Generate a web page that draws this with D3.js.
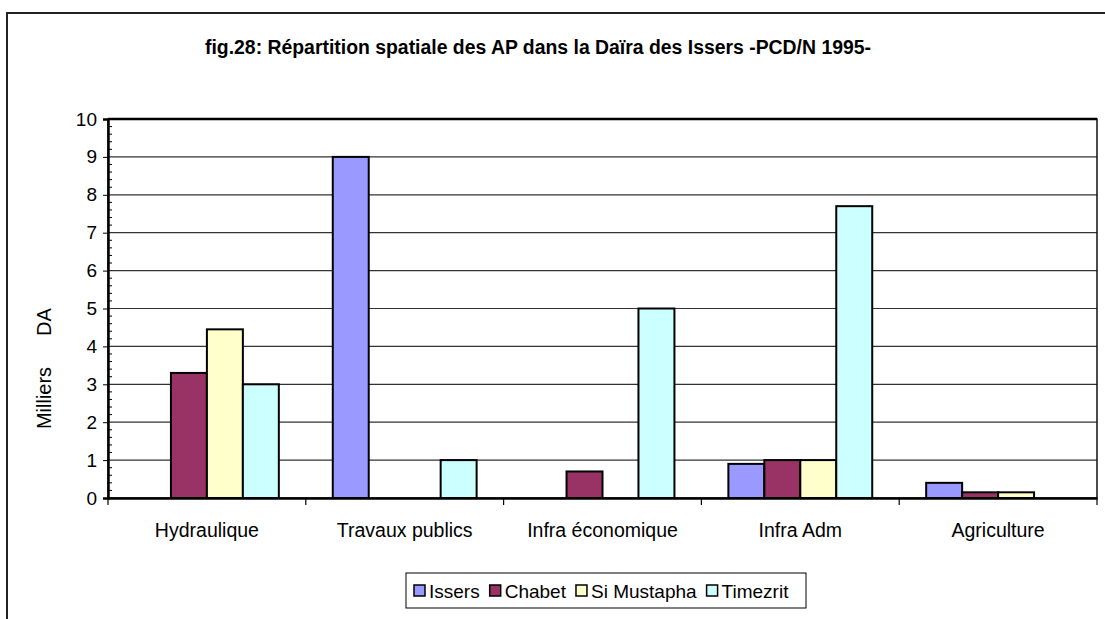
<!DOCTYPE html>
<html>
<head>
<meta charset="utf-8">
<script src="https://cdn.jsdelivr.net/npm/d3@7"></script>
<style>
  body { margin: 0; background: #fff; }
  text { font-family: "Liberation Sans", Arial, sans-serif; }
</style>
</head>
<body>
<div id="chart"></div>
<script>
// data (Milliers DA)
const categories = ["Hydraulique", "Travaux publics", "Infra économique", "Infra Adm", "Agriculture"];
const seriesNames = ["Issers", "Chabet", "Si Mustapha", "Timezrit"];
const issers     = [0, 9.0, 0, 0.9, 0.4];
const chabet     = [3.3, 0, 0.7, 1.0, 0.15];
const siMustapha = [4.45, 0, 0, 1.0, 0.15];
const timezrit   = [3.0, 1.0, 5.0, 7.7, 0];
const colors = ["#9999FF", "#993366", "#FFFFCC", "#CCFFFF"];
const yTicks = [0, 1, 2, 3, 4, 5, 6, 7, 8, 9, 10];

const seriesValues = [issers, chabet, siMustapha, timezrit];

function barChart(selector) {
  const W = 1105, H = 619;
  const margin = {top: 119, right: 8, bottom: 121, left: 108};
  const width = W - margin.left - margin.right,
        height = H - margin.top - margin.bottom;
  const font = "Liberation Sans, Arial, sans-serif";

  const svg = d3.select(selector).append("svg")
    .attr("width", W)
    .attr("height", H);

  // outer chart frame
  svg.append("rect")
    .attr("x", 7).attr("y", 13)
    .attr("width", W + 20).attr("height", H + 20)
    .attr("fill", "none").attr("stroke", "#222").attr("stroke-width", 2);

  svg.append("text")
    .attr("x", 538).attr("y", 54)
    .attr("text-anchor", "middle")
    .attr("font-size", 19.4).attr("font-weight", "bold")
    .text("fig.28: Répartition spatiale des AP dans la Daïra des Issers -PCD/N 1995-");

  const g = svg.append("g")
    .attr("transform", "translate(" + margin.left + "," + margin.top + ")");

  const x = d3.scaleBand().domain(categories).range([0, width]).paddingInner(0).paddingOuter(0);
  const xs = d3.scaleBand().domain(seriesNames).range([0, x.bandwidth()]).paddingInner(0).paddingOuter(0.75);
  const y = d3.scaleLinear().domain([0, 10]).range([height, 0]);

  // gridlines
  g.append("g").selectAll("line").data(yTicks.slice(1))
    .join("line")
    .attr("x1", 0).attr("x2", width)
    .attr("y1", d => y(d)).attr("y2", d => y(d))
    .attr("stroke", "#333").attr("stroke-width", 1.2);

  // plot area border
  g.append("rect")
    .attr("width", width).attr("height", height)
    .attr("fill", "none").attr("stroke", "#111").attr("stroke-width", 1.5);
  g.append("line").attr("x1", 0).attr("x2", width).attr("y1", 0).attr("y2", 0)
    .attr("stroke", "#000").attr("stroke-width", 2.5);

  // bars
  const rows = [];
  categories.forEach((c, i) => {
    seriesNames.forEach((s, j) => {
      const v = seriesValues[j][i];
      if (v > 0) rows.push({c, s, v, j});
    });
  });
  g.append("g").selectAll("rect").data(rows)
    .join("rect")
    .attr("x", d => x(d.c) + xs(d.s))
    .attr("y", d => y(d.v))
    .attr("width", xs.bandwidth())
    .attr("height", d => y(0) - y(d.v))
    .attr("fill", d => colors[d.j])
    .attr("stroke", "#000").attr("stroke-width", 2);

  // minor ticks inside the axis
  const minor = d3.range(0, 10.001, 0.2).filter(v => Math.abs(v - Math.round(v)) > 0.01);
  g.append("g").selectAll("line").data(minor)
    .join("line")
    .attr("x1", 0).attr("x2", 4)
    .attr("y1", d => y(d)).attr("y2", d => y(d))
    .attr("stroke", "#000").attr("stroke-width", 1);

  const yAxis = g.append("g")
    .call(d3.axisLeft(y).tickValues(yTicks).tickSizeOuter(0).tickSize(5).tickPadding(6));
  yAxis.select(".domain").attr("stroke-width", 2.5);
  yAxis.selectAll("text").attr("font-size", 19).attr("fill", "#000")
    .attr("font-family", font);

  const xAxis = g.append("g")
    .attr("transform", "translate(0," + height + ")")
    .call(d3.axisBottom(x).tickSize(0).tickSizeOuter(0));
  xAxis.select(".domain").attr("stroke-width", 2.5);
  xAxis.selectAll("text").attr("font-size", 19.5).attr("fill", "#000")
    .attr("font-family", font).attr("y", 39).attr("dy", 0);
  // category separators below the axis
  g.append("g").selectAll("line").data(d3.range(categories.length + 1))
    .join("line")
    .attr("x1", i => i * x.step()).attr("x2", i => i * x.step())
    .attr("y1", height).attr("y2", height + 7)
    .attr("stroke", "#000").attr("stroke-width", 1.2);

  // y label
  svg.append("text")
    .attr("transform", "translate(51,398) rotate(-90)")
    .attr("text-anchor", "middle")
    .attr("font-size", 20)
    .text("Milliers");
  svg.append("text")
    .attr("transform", "translate(51,322) rotate(-90)")
    .attr("text-anchor", "middle")
    .attr("font-size", 20)
    .text("DA");

  // legend
  const lg = svg.append("g").attr("transform", "translate(406,573)");
  lg.append("rect").attr("width", 400).attr("height", 35)
    .attr("fill", "#fff").attr("stroke", "#000").attr("stroke-width", 1);
  let cx = 8;
  seriesNames.forEach((s, j) => {
    const item = lg.append("g").attr("transform", "translate(" + cx + ",0)");
    item.append("rect").attr("x", 0).attr("y", 12).attr("width", 11).attr("height", 11)
      .attr("fill", colors[j]).attr("stroke", "#000").attr("stroke-width", 1.5);
    const t = item.append("text").attr("x", 15).attr("y", 25).attr("font-size", 19).text(s);
    cx += 15 + t.node().getComputedTextLength() + 10;
  });
}

barChart("#chart");
</script>
</body>
</html>
